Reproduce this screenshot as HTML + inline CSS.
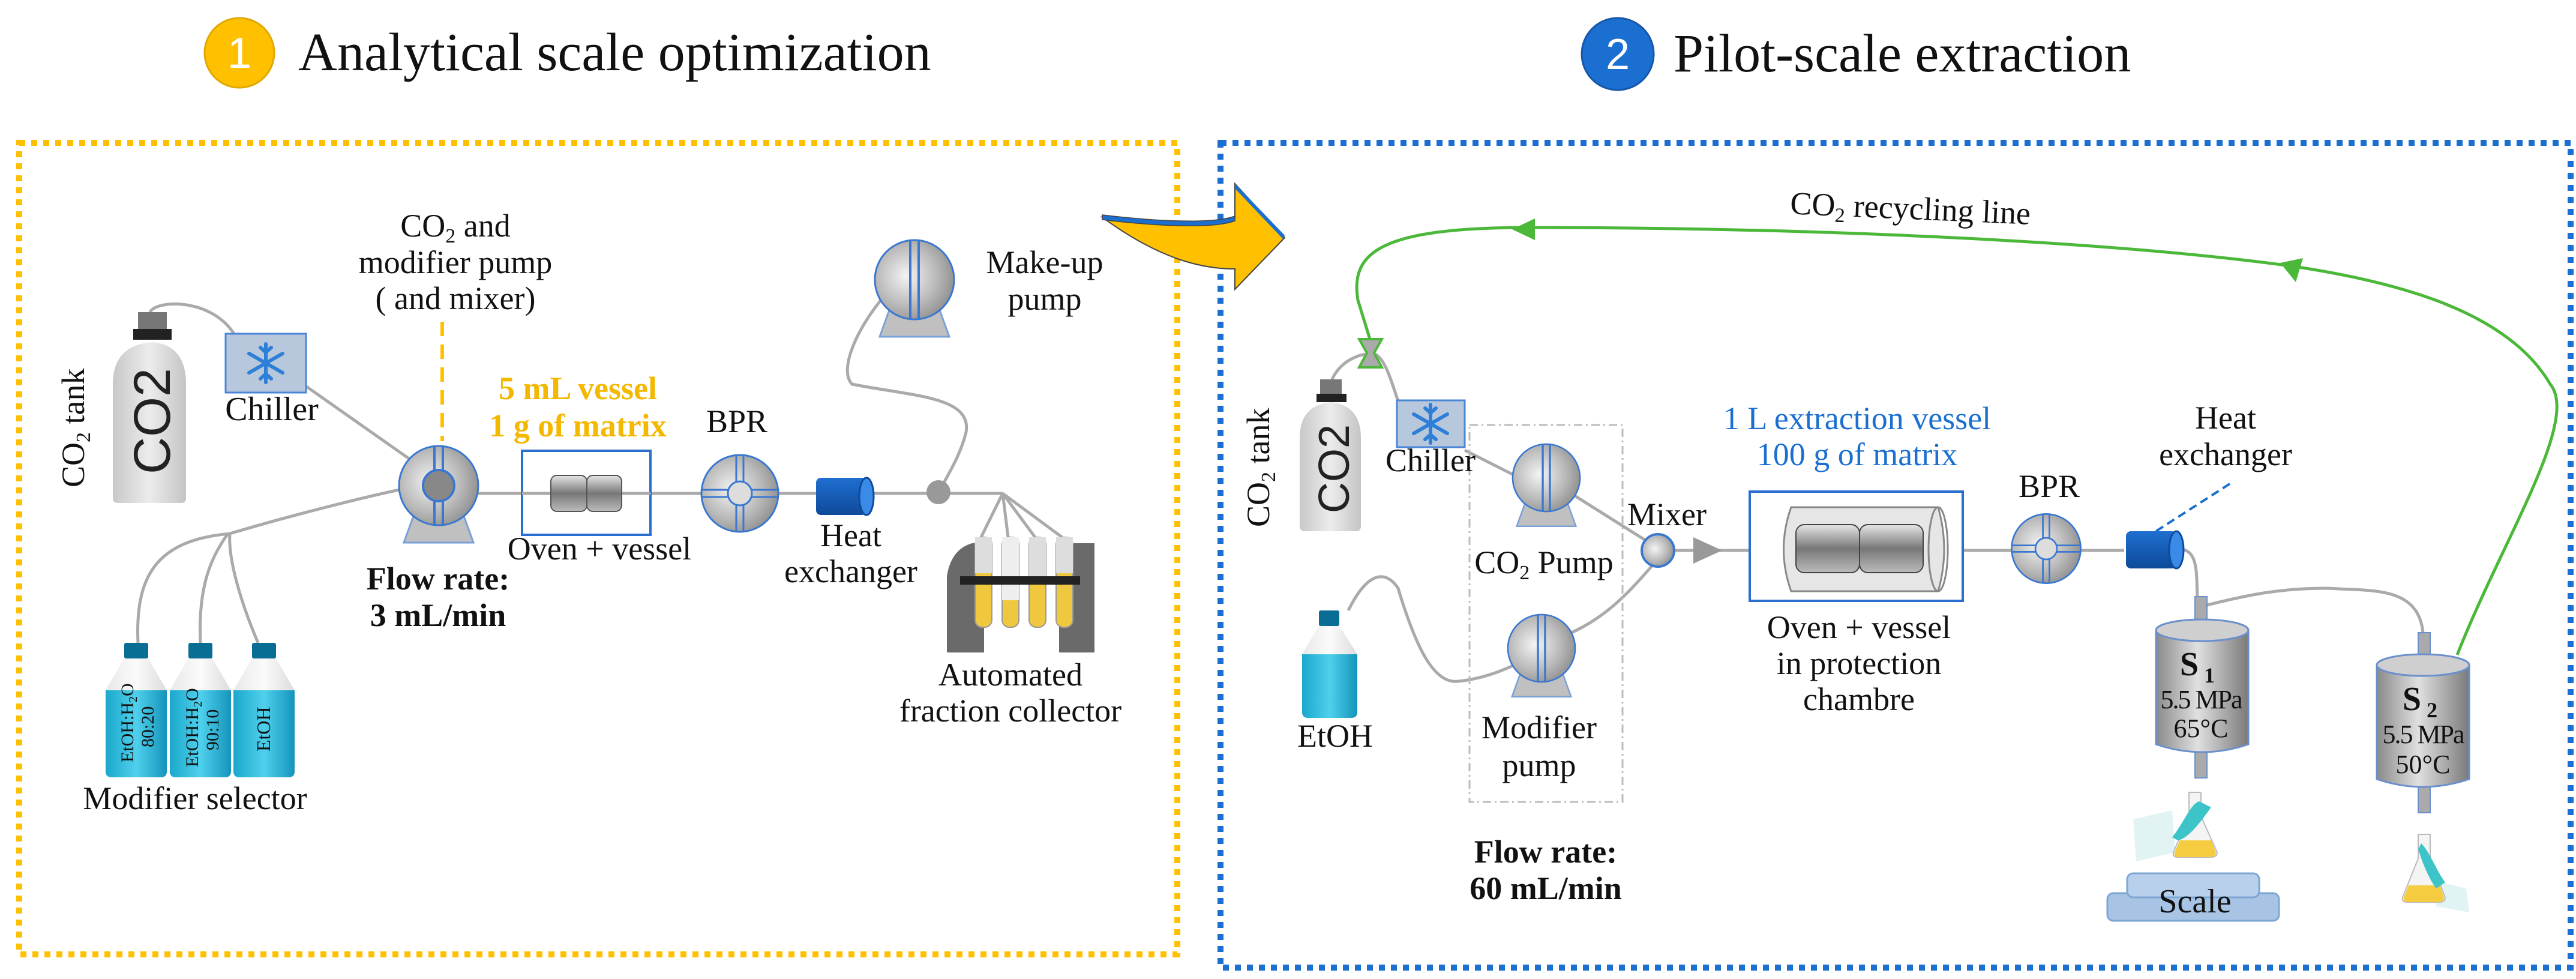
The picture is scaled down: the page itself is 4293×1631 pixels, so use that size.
<!DOCTYPE html>
<html><head><meta charset="utf-8"><style>
html,body{margin:0;padding:0;background:#fff;}
svg{display:block;}
text{font-family:"Liberation Serif",serif;fill:#111;}
</style></head><body>
<svg width="4293" height="1631" viewBox="0 0 4293 1631" xmlns="http://www.w3.org/2000/svg">
<defs>
<radialGradient id="pg" cx="40%" cy="45%" r="65%"><stop offset="0" stop-color="#f4f4f4"/><stop offset="0.6" stop-color="#b8b8b8"/><stop offset="1" stop-color="#8a8a8a"/></radialGradient>
<linearGradient id="tg" x1="0" x2="1"><stop offset="0" stop-color="#c8c8c8"/><stop offset="0.5" stop-color="#ececec"/><stop offset="1" stop-color="#c4c4c4"/></linearGradient>
<linearGradient id="cg" x1="0" x2="1"><stop offset="0" stop-color="#8a8a8a"/><stop offset="0.45" stop-color="#e0e0e0"/><stop offset="1" stop-color="#7a7a7a"/></linearGradient>
<linearGradient id="vg" x1="0" y1="0" x2="0" y2="1"><stop offset="0" stop-color="#e6e6e6"/><stop offset="0.5" stop-color="#777"/><stop offset="1" stop-color="#bbb"/></linearGradient>
<linearGradient id="bg" x1="0" x2="1"><stop offset="0" stop-color="#1aa8cc"/><stop offset="0.5" stop-color="#4fd0ec"/><stop offset="1" stop-color="#1594bb"/></linearGradient>
<linearGradient id="bc" x1="0" x2="1"><stop offset="0" stop-color="#e8e8e8"/><stop offset="0.5" stop-color="#fbfbfb"/><stop offset="1" stop-color="#dcdcdc"/></linearGradient>
<linearGradient id="he" x1="0" y1="0" x2="0" y2="1"><stop offset="0" stop-color="#1f6fd0"/><stop offset="1" stop-color="#0e4a9a"/></linearGradient>
<g id="pump">
<polygon points="-40,45 40,45 58,95 -58,95" fill="#c0c0c0" stroke="#7aa0d8" stroke-width="3"/>
<circle r="66" fill="url(#pg)" stroke="#3a78d0" stroke-width="3"/>
<line x1="-7" y1="-66" x2="-7" y2="66" stroke="#3a78d0" stroke-width="4"/>
<line x1="7" y1="-66" x2="7" y2="66" stroke="#3a78d0" stroke-width="4"/>
</g>
<g id="bpr">
<circle r="64" fill="url(#pg)" stroke="#3a78d0" stroke-width="3"/>
<line x1="-64" y1="-6" x2="64" y2="-6" stroke="#3a78d0" stroke-width="3"/><line x1="-64" y1="6" x2="64" y2="6" stroke="#3a78d0" stroke-width="3"/>
<line x1="-6" y1="-64" x2="-6" y2="64" stroke="#3a78d0" stroke-width="3"/><line x1="6" y1="-64" x2="6" y2="64" stroke="#3a78d0" stroke-width="3"/>
<circle r="20" fill="#ddd" stroke="#3a78d0" stroke-width="3"/>
</g>
<g id="snow" stroke="#2e7fd8" stroke-width="6" stroke-linecap="round" fill="none">
<line x1="0" y1="-32" x2="0" y2="32"/><line x1="-28" y1="-16" x2="28" y2="16"/><line x1="-28" y1="16" x2="28" y2="-16"/>
<polyline points="-9,-26 0,-18 9,-26"/><polyline points="-9,26 0,18 9,26"/>
</g>
</defs>

<!-- Titles -->
<circle cx="399" cy="88" r="58" fill="#FFC000" stroke="#e0a800" stroke-width="3"/>
<text x="399" y="113" font-size="72" text-anchor="middle" style="fill:#fff;font-family:'Liberation Sans',sans-serif">1</text>
<text x="497" y="117" font-size="90">Analytical scale optimization</text>
<circle cx="2696" cy="90" r="60" fill="#1B6FD0" stroke="#1556a8" stroke-width="3"/>
<text x="2696" y="115" font-size="72" text-anchor="middle" style="fill:#fff;font-family:'Liberation Sans',sans-serif">2</text>
<text x="2789" y="119" font-size="90">Pilot-scale extraction</text>

<!-- Boxes -->
<rect x="32" y="238" width="1930" height="1352" fill="none" stroke="#FFC000" stroke-width="10" stroke-dasharray="10 10"/>
<rect x="2034" y="238" width="2250" height="1374" fill="none" stroke="#1B6FD0" stroke-width="10" stroke-dasharray="10 10"/>

<!-- big arrow -->
<path d="M1837,362 C1920,372 2020,378 2058,364 L2058,306 L2141,396 L2058,482 L2058,448 C2000,448 1930,430 1837,362 Z" fill="#FFC000" stroke="#444" stroke-width="2"/>
<path d="M1837,358 C1920,368 2020,374 2058,360 L2058,368 C2020,382 1920,376 1837,366 Z" fill="#1B6FD0" stroke="#444" stroke-width="1.5"/>
<path d="M2058,306 L2141,392 L2138,398 L2058,314 Z" fill="#1B6FD0"/>

<!-- ===== LEFT PANEL ===== -->
<g fill="none" stroke="#aaa" stroke-width="5">
<path d="M250,520 C260,500 350,495 390,556"/>
<path d="M505,640 L690,770"/>
<path d="M230,1071 C225,960 260,900 383,889 C480,860 600,830 665,816"/>
<path d="M334,1071 C330,980 350,930 380,889"/>
<path d="M430,1071 C400,1000 380,930 383,889"/>
<line x1="797" y1="822" x2="1671" y2="822"/>
<path d="M1468,500 C1420,560 1400,620 1420,640 C1520,660 1620,660 1610,720 C1600,760 1580,790 1570,810"/>
<path d="M1671,822 L1635,895 M1671,822 L1680,895 M1671,822 L1725,895 M1671,822 L1770,895"/>
</g>
<!-- CO2 tank -->
<rect x="230" y="520" width="48" height="28" fill="#777"/>
<rect x="222" y="548" width="64" height="18" fill="#222"/>
<path d="M188,640 Q188,575 254,570 Q310,575 310,640 L310,830 Q310,838 302,838 L196,838 Q188,838 188,830 Z" fill="url(#tg)"/>
<text transform="translate(283,790) rotate(-90)" font-size="86" style="font-family:'Liberation Sans',sans-serif;fill:#222">CO2</text>
<text transform="translate(140,812) rotate(-90)" font-size="54">CO<tspan font-size="34" dy="10">2</tspan><tspan dy="-10"> tank</tspan></text>
<!-- chiller -->
<rect x="376" y="556" width="134" height="98" fill="#b8c8dc" stroke="#4a86d8" stroke-width="3"/>
<use href="#snow" x="443" y="605"/>
<text x="453" y="700" font-size="56" text-anchor="middle">Chiller</text>
<!-- pump 1 -->
<line x1="737" y1="536" x2="737" y2="735" stroke="#FFC000" stroke-width="6" stroke-dasharray="24 14"/>
<use href="#pump" x="731" y="809"/>
<circle cx="731" cy="809" r="26" fill="#888" stroke="#3a78d0" stroke-width="4"/>
<text x="759" y="394" font-size="54" text-anchor="middle">CO<tspan font-size="34" dy="10">2</tspan><tspan dy="-10"> and</tspan></text>
<text x="759" y="455" font-size="54" text-anchor="middle">modifier pump</text>
<text x="759" y="515" font-size="54" text-anchor="middle">( and mixer)</text>
<text x="730" y="982" font-size="54" font-weight="bold" text-anchor="middle">Flow rate:</text>
<text x="730" y="1043" font-size="54" font-weight="bold" text-anchor="middle">3 mL/min</text>
<!-- oven -->
<text x="963" y="665" font-size="54" font-weight="bold" text-anchor="middle" style="fill:#F5B800">5 mL vessel</text>
<text x="963" y="727" font-size="54" font-weight="bold" text-anchor="middle" style="fill:#F5B800">1 g of matrix</text>
<rect x="870" y="751" width="214" height="140" fill="#fff" stroke="#2a6fd0" stroke-width="4"/>
<line x1="870" y1="822" x2="1084" y2="822" stroke="#aaa" stroke-width="5"/>
<rect x="918" y="792" width="60" height="60" rx="10" fill="url(#vg)" stroke="#555" stroke-width="2"/>
<rect x="978" y="792" width="58" height="60" rx="10" fill="url(#vg)" stroke="#555" stroke-width="2"/>
<text x="999" y="932" font-size="54" text-anchor="middle">Oven + vessel</text>
<!-- BPR -->
<use href="#bpr" x="1233" y="822"/>
<text x="1228" y="720" font-size="54" text-anchor="middle">BPR</text>
<!-- HE -->
<rect x="1360" y="796" width="84" height="62" rx="8" fill="url(#he)"/>
<ellipse cx="1444" cy="827" rx="12" ry="31" fill="#3a8ae8" stroke="#0e4a9a" stroke-width="3"/>
<text x="1418" y="910" font-size="54" text-anchor="middle">Heat</text>
<text x="1418" y="970" font-size="54" text-anchor="middle">exchanger</text>
<circle cx="1564" cy="820" r="20" fill="#999"/>
<!-- make-up pump -->
<use href="#pump" x="1524" y="466"/>
<text x="1741" y="455" font-size="54" text-anchor="middle">Make-up</text>
<text x="1741" y="516" font-size="54" text-anchor="middle">pump</text>
<!-- fraction collector -->
<path d="M1578,1087 L1578,960 Q1585,915 1620,905 L1640,905 L1640,1087 Z" fill="#6a6a6a"/>
<path d="M1824,1087 L1824,905 L1790,905 Q1765,915 1765,960 L1765,1087 Z" fill="#6a6a6a"/>
<g stroke="#999" stroke-width="2">
<rect x="1625" y="895" width="28" height="150" rx="12" fill="#f0c840"/><rect x="1670" y="895" width="28" height="150" rx="12" fill="#f0c840"/>
<rect x="1715" y="895" width="28" height="150" rx="12" fill="#f0c840"/><rect x="1760" y="895" width="28" height="150" rx="12" fill="#f0c840"/>
</g>
<rect x="1625" y="895" width="28" height="60" fill="#ddd"/><rect x="1670" y="895" width="28" height="105" fill="#eee"/><rect x="1715" y="895" width="28" height="70" fill="#ddd"/><rect x="1760" y="895" width="28" height="60" fill="#ddd"/>
<rect x="1600" y="960" width="200" height="14" fill="#222"/>
<text x="1684" y="1142" font-size="54" text-anchor="middle">Automated</text>
<text x="1684" y="1202" font-size="54" text-anchor="middle">fraction collector</text>
<!-- bottles -->
<g>
<rect x="207" y="1071" width="40" height="26" rx="3" fill="#0a6d94"/>
<path d="M207,1097 L247,1097 L278,1150 L278,1285 Q278,1295 268,1295 L186,1295 Q176,1295 176,1285 L176,1150 Z" fill="url(#bc)"/>
<path d="M176,1150 L278,1150 L278,1285 Q278,1295 268,1295 L186,1295 Q176,1295 176,1285 Z" fill="url(#bg)"/>
<rect x="314" y="1071" width="40" height="26" rx="3" fill="#0a6d94"/>
<path d="M314,1097 L354,1097 L385,1150 L385,1285 Q385,1295 375,1295 L293,1295 Q283,1295 283,1285 L283,1150 Z" fill="url(#bc)"/>
<path d="M283,1150 L385,1150 L385,1285 Q385,1295 375,1295 L293,1295 Q283,1295 283,1285 Z" fill="url(#bg)"/>
<rect x="420" y="1071" width="40" height="26" rx="3" fill="#0a6d94"/>
<path d="M420,1097 L460,1097 L491,1150 L491,1285 Q491,1295 481,1295 L399,1295 Q389,1295 389,1285 L389,1150 Z" fill="url(#bc)"/>
<path d="M389,1150 L491,1150 L491,1285 Q491,1295 481,1295 L399,1295 Q389,1295 389,1285 Z" fill="url(#bg)"/>
</g>
<text transform="translate(222,1270) rotate(-90)" font-size="30">EtOH:H<tspan font-size="20" dy="6">2</tspan><tspan dy="-6">O</tspan></text>
<text transform="translate(256,1245) rotate(-90)" font-size="30">80:20</text>
<text transform="translate(330,1278) rotate(-90)" font-size="30">EtOH:H<tspan font-size="20" dy="6">2</tspan><tspan dy="-6">O</tspan></text>
<text transform="translate(364,1250) rotate(-90)" font-size="30">90:10</text>
<text transform="translate(450,1252) rotate(-90)" font-size="32">EtOH</text>
<text x="325" y="1348" font-size="54" text-anchor="middle">Modifier selector</text>

<!-- ===== RIGHT PANEL ===== -->
<path d="M4095,1091 C4170,900 4300,700 4250,640 C4180,520 4000,470 3817,443 C3500,400 3000,379 2549,379 C2300,379 2250,420 2263,500 L2283,565" fill="none" stroke="#4cb83a" stroke-width="5"/>
<polygon points="2520,382 2558,364 2558,400" fill="#4cb83a"/>
<polygon points="3800,438 3838,430 3826,470" fill="#4cb83a"/>
<text transform="translate(3183,365) rotate(2.5)" font-size="54" text-anchor="middle">CO<tspan font-size="34" dy="10">2</tspan><tspan dy="-10"> recycling line</tspan></text>
<g fill="none" stroke="#aaa" stroke-width="5">
<path d="M2220,632 C2230,610 2250,595 2275,590"/>
<path d="M2292,590 C2310,600 2320,640 2330,668"/>
<path d="M2441,750 L2540,800"/>
<path d="M2615,820 L2750,905"/>
<path d="M2247,1017 C2280,950 2310,950 2330,980 C2360,1080 2390,1140 2430,1135 C2480,1130 2520,1110 2540,1100"/>
<path d="M2605,1060 C2680,1030 2720,980 2760,935"/>
<line x1="2791" y1="917" x2="3540" y2="917"/>
<path d="M3632,915 C3665,915 3660,960 3662,995"/>
<path d="M3670,1010 C3750,990 3800,980 3880,980 C3950,985 4030,975 4038,1054"/>
</g>
<polygon points="2265,565 2303,565 2290,588 2303,612 2265,612 2278,588" fill="#aaa" stroke="#4cb83a" stroke-width="4"/>
<rect x="2200" y="632" width="36" height="24" fill="#777"/>
<rect x="2194" y="656" width="50" height="14" fill="#222"/>
<path d="M2166,730 Q2166,675 2218,670 Q2268,675 2268,730 L2268,876 Q2268,885 2260,885 L2174,885 Q2166,885 2166,876 Z" fill="url(#tg)"/>
<text transform="translate(2248,855) rotate(-90)" font-size="72" style="font-family:'Liberation Sans',sans-serif;fill:#222">CO2</text>
<text transform="translate(2115,878) rotate(-90)" font-size="54">CO<tspan font-size="34" dy="10">2</tspan><tspan dy="-10"> tank</tspan></text>
<rect x="2328" y="667" width="113" height="78" fill="#b8c8dc" stroke="#4a86d8" stroke-width="3"/>
<use href="#snow" x="2384" y="706"/>
<rect x="2449" y="708" width="255" height="628" fill="none" stroke="#bbb" stroke-width="3" stroke-dasharray="14 6 3 6"/>
<text x="2384" y="785" font-size="54" text-anchor="middle">Chiller</text>
<g transform="translate(2577,796) scale(0.85)"><use href="#pump"/></g>
<text x="2573" y="955" font-size="54" text-anchor="middle">CO<tspan font-size="34" dy="10">2</tspan><tspan dy="-10"> Pump</tspan></text>
<g transform="translate(2569,1080) scale(0.85)"><use href="#pump"/></g>
<text x="2565" y="1230" font-size="54" text-anchor="middle">Modifier</text>
<text x="2565" y="1293" font-size="54" text-anchor="middle">pump</text>
<text x="2576" y="1437" font-size="54" font-weight="bold" text-anchor="middle">Flow rate:</text>
<text x="2576" y="1498" font-size="54" font-weight="bold" text-anchor="middle">60 mL/min</text>
<rect x="2198" y="1017" width="34" height="26" rx="3" fill="#0a6d94"/>
<path d="M2198,1043 L2232,1043 L2262,1090 L2262,1186 Q2262,1196 2252,1196 L2180,1196 Q2170,1196 2170,1186 L2170,1090 Z" fill="url(#bc)"/>
<path d="M2170,1090 L2262,1090 L2262,1186 Q2262,1196 2252,1196 L2180,1196 Q2170,1196 2170,1186 Z" fill="url(#bg)"/>
<text x="2225" y="1244" font-size="54" text-anchor="middle">EtOH</text>
<circle cx="2763" cy="917" r="27" fill="url(#pg)" stroke="#3a78d0" stroke-width="4"/>
<text x="2778" y="875" font-size="54" text-anchor="middle">Mixer</text>
<polygon points="2822,895 2870,917 2822,939" fill="#999"/>
<text x="3095" y="715" font-size="54" text-anchor="middle" style="fill:#1B6FD0">1 L extraction vessel</text>
<text x="3095" y="775" font-size="54" text-anchor="middle" style="fill:#1B6FD0">100 g of matrix</text>
<rect x="2916" y="819" width="355" height="182" fill="#fff" stroke="#2a6fd0" stroke-width="4"/>
<path d="M2985,845 L3230,845 Q3250,915 3230,985 L2985,985 Q2960,915 2985,845 Z" fill="#e6e6e6" stroke="#888" stroke-width="3"/>
<ellipse cx="3230" cy="915" rx="16" ry="70" fill="none" stroke="#888" stroke-width="3"/>
<rect x="2993" y="874" width="106" height="80" rx="14" fill="url(#vg)" stroke="#444" stroke-width="2"/>
<rect x="3099" y="874" width="106" height="80" rx="14" fill="url(#vg)" stroke="#444" stroke-width="2"/>
<text x="3098" y="1063" font-size="54" text-anchor="middle">Oven + vessel</text>
<text x="3098" y="1123" font-size="54" text-anchor="middle">in protection</text>
<text x="3098" y="1183" font-size="54" text-anchor="middle">chambre</text>
<g transform="translate(3410,914) scale(0.9)"><use href="#bpr"/></g>
<text x="3415" y="828" font-size="54" text-anchor="middle">BPR</text>
<rect x="3543" y="885" width="84" height="62" rx="8" fill="url(#he)"/>
<ellipse cx="3627" cy="916" rx="12" ry="31" fill="#3a8ae8" stroke="#0e4a9a" stroke-width="3"/>
<line x1="3716" y1="806" x2="3593" y2="885" stroke="#1B6FD0" stroke-width="4" stroke-dasharray="14 8"/>
<text x="3709" y="714" font-size="54" text-anchor="middle">Heat</text>
<text x="3709" y="775" font-size="54" text-anchor="middle">exchanger</text>
<rect x="3658" y="994" width="20" height="50" fill="#aaa" stroke="#6a8fcc" stroke-width="2"/>
<rect x="3658" y="1250" width="20" height="46" fill="#aaa" stroke="#6a8fcc" stroke-width="2"/>
<path d="M3593,1050 L3593,1240 Q3670,1266 3747,1240 L3747,1050 Z" fill="url(#cg)" stroke="#6a8fcc" stroke-width="3"/>
<ellipse cx="3670" cy="1050" rx="77" ry="18" fill="#cfcfcf" stroke="#6a8fcc" stroke-width="3"/>
<text x="3662" y="1125" font-size="56" font-weight="bold" text-anchor="middle">S<tspan font-size="36" dy="12"> 1</tspan></text>
<text x="3668" y="1180" font-size="44" text-anchor="middle" letter-spacing="-2">5.5 MPa</text>
<text x="3668" y="1228" font-size="44" text-anchor="middle">65°C</text>
<rect x="4030" y="1054" width="20" height="50" fill="#aaa" stroke="#6a8fcc" stroke-width="2"/>
<rect x="4030" y="1308" width="20" height="46" fill="#aaa" stroke="#6a8fcc" stroke-width="2"/>
<path d="M3961,1108 L3961,1298 Q4038,1324 4115,1298 L4115,1108 Z" fill="url(#cg)" stroke="#6a8fcc" stroke-width="3"/>
<ellipse cx="4038" cy="1108" rx="77" ry="18" fill="#cfcfcf" stroke="#6a8fcc" stroke-width="3"/>
<text x="4033" y="1183" font-size="56" font-weight="bold" text-anchor="middle">S<tspan font-size="36" dy="12"> 2</tspan></text>
<text x="4038" y="1238" font-size="44" text-anchor="middle" letter-spacing="-2">5.5 MPa</text>
<text x="4038" y="1288" font-size="44" text-anchor="middle">50°C</text>
<polygon points="3555,1365 3620,1350 3625,1420 3560,1435" fill="#dff2f2" opacity="0.9"/>
<path d="M3648,1320 L3668,1320 L3668,1360 L3695,1420 Q3695,1428 3685,1428 L3630,1428 Q3620,1428 3622,1420 L3648,1360 Z" fill="#f4f4f4" stroke="#bbb" stroke-width="2"/>
<path d="M3633,1400 L3685,1400 L3693,1420 Q3693,1428 3683,1428 L3632,1428 Q3622,1428 3624,1420 Z" fill="#f5cc40"/>
<path d="M3620,1395 C3640,1370 3650,1340 3665,1335 L3685,1345 C3670,1365 3650,1395 3630,1400 Z" fill="#3cc4c8"/>
<polygon points="4050,1465 4110,1480 4115,1520 4060,1510" fill="#dff2f2" opacity="0.9"/>
<path d="M4030,1390 L4050,1390 L4050,1430 L4075,1495 Q4075,1503 4065,1503 L4012,1503 Q4002,1503 4004,1495 L4030,1430 Z" fill="#f4f4f4" stroke="#bbb" stroke-width="2"/>
<path d="M4014,1475 L4066,1475 L4073,1495 Q4073,1503 4063,1503 L4014,1503 Q4004,1503 4006,1495 Z" fill="#f5cc40"/>
<path d="M4035,1405 C4050,1420 4060,1450 4075,1470 L4060,1480 C4045,1460 4035,1430 4030,1415 Z" fill="#3cc4c8"/>
<rect x="3512" y="1488" width="286" height="46" rx="10" fill="#a8c4e4" stroke="#7ea6d4" stroke-width="3"/>
<rect x="3545" y="1455" width="220" height="40" rx="10" fill="#b8d0ec" stroke="#7ea6d4" stroke-width="3"/>
<text x="3658" y="1520" font-size="56" text-anchor="middle">Scale</text>
</svg>
</body></html>
